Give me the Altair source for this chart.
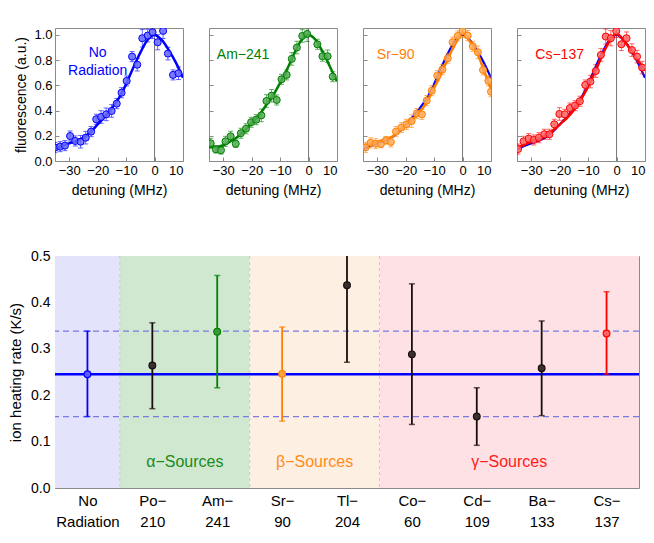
import altair as alt
import pandas as pd

FONT = "Liberation Sans"

# ---------------- top panels: fluorescence spectra ----------------
nr_x = [-35.0, -33.2, -31.5, -29.7, -27.9, -26.0, -24.2, -22.3, -20.5, -18.8, -17.0, -15.1, -13.3,
        -11.6, -9.8, -7.9, -6.1, -4.3, -2.4, -0.7, 1.1, 3.0, 4.7, 6.5, 8.4]
nr_y = [0.106, 0.114, 0.122, 0.198, 0.159, 0.153, 0.185, 0.233, 0.331, 0.349, 0.370, 0.397, 0.455,
        0.542, 0.635, 0.828, 0.764, 0.974, 0.995, 1.021, 0.942, 1.032, 0.852, 0.683, 0.696]
nr_err = [0.04, 0.04, 0.04, 0.04, 0.04, 0.05, 0.05, 0.04, 0.04, 0.05, 0.05, 0.05, 0.04,
          0.04, 0.04, 0.04, 0.05, 0.07, 0.05, 0.05, 0.06, 0.06, 0.05, 0.04, 0.05]

am_x = [-34.4, -32.6, -30.8, -29.2, -27.4, -25.6, -23.8, -22.0, -20.2, -18.4, -16.6, -14.8, -13.0,
        -11.2, -9.5, -7.7, -5.9, -4.1, -2.2, -0.5, 3.1, 4.9, 6.7, 8.5]
am_y = [0.140, 0.093, 0.085, 0.156, 0.196, 0.137, 0.220, 0.256, 0.307, 0.328, 0.362, 0.476, 0.518,
        0.484, 0.648, 0.683, 0.810, 0.900, 0.992, 1.008, 0.926, 0.831, 0.831, 0.669]
am_err = [0.04, 0.03, 0.03, 0.04, 0.04, 0.03, 0.04, 0.04, 0.04, 0.04, 0.05, 0.05, 0.05,
          0.04, 0.04, 0.04, 0.05, 0.05, 0.05, 0.06, 0.04, 0.04, 0.05, 0.04]

sr_x = [-34.1, -32.3, -30.5, -28.7, -26.9, -25.2, -23.4, -21.5, -19.7, -17.9, -16.1, -14.3, -12.6,
        -10.8, -8.9, -7.1, -5.2, -3.5, -1.7, 0.0, 1.8, 3.6, 5.4, 7.2, 9.1, 10.0]
sr_y = [0.108, 0.145, 0.137, 0.135, 0.164, 0.151, 0.233, 0.265, 0.291, 0.317, 0.376, 0.370, 0.479,
        0.558, 0.677, 0.725, 0.815, 0.942, 0.992, 1.030, 0.995, 0.910, 0.862, 0.722, 0.635, 0.550]
sr_err = [0.04, 0.04, 0.04, 0.03, 0.03, 0.04, 0.04, 0.04, 0.04, 0.05, 0.04, 0.04, 0.04,
          0.04, 0.04, 0.04, 0.04, 0.04, 0.04, 0.05, 0.04, 0.04, 0.05, 0.04, 0.04, 0.04]

cs_x = [-34.6, -32.7, -30.9, -29.1, -27.3, -25.4, -23.6, -21.9, -20.1, -18.2, -16.4, -14.6, -12.9,
        -11.0, -9.2, -7.3, -5.5, -3.8, -2.0, -0.1, 1.7, 3.5, 5.4, 7.2, 9.0]
cs_y = [0.095, 0.156, 0.177, 0.167, 0.185, 0.212, 0.212, 0.291, 0.373, 0.370, 0.420, 0.439, 0.474,
        0.603, 0.630, 0.714, 0.841, 0.987, 0.974, 1.030, 0.926, 0.974, 0.880, 0.828, 0.741]
cs_err = [0.04, 0.04, 0.04, 0.04, 0.04, 0.04, 0.04, 0.04, 0.05, 0.04, 0.04, 0.04, 0.04,
          0.04, 0.05, 0.05, 0.05, 0.06, 0.06, 0.05, 0.05, 0.05, 0.05, 0.05, 0.05]

fit_x = [-35, -32.5, -30, -27.5, -25, -22.5, -20, -17.5, -15, -12.5, -10, -7.5, -5, -2.5, 0, 2.5, 5, 7.5, 10]
nr_fit = [0.090, 0.120, 0.140, 0.160, 0.185, 0.230, 0.290, 0.350, 0.420, 0.500, 0.610, 0.740, 0.860, 0.960, 1.000, 0.960, 0.880, 0.780, 0.660]
am_fit = [0.115, 0.110, 0.125, 0.155, 0.190, 0.240, 0.300, 0.360, 0.440, 0.520, 0.620, 0.730, 0.855, 0.960, 1.000, 0.960, 0.865, 0.750, 0.630]
sr_fit = [0.120, 0.135, 0.150, 0.170, 0.190, 0.235, 0.285, 0.330, 0.390, 0.470, 0.580, 0.690, 0.820, 0.930, 1.020, 0.950, 0.865, 0.720, 0.570]
cs_fit = [0.105, 0.130, 0.155, 0.180, 0.205, 0.240, 0.290, 0.340, 0.405, 0.490, 0.590, 0.710, 0.840, 0.950, 1.010, 0.960, 0.880, 0.800, 0.720]

x_ticks = [-30, -20, -10, 0, 10]
y_ticks = [0.0, 0.2, 0.4, 0.6, 0.8, 1.0]
y_top = 1.055

# ---------------- bottom panel: heating rates ----------------
sources = ["No|Radiation", "Po−|210", "Am−|241", "Sr−|90", "Tl−|204", "Co−|60", "Cd−|109", "Ba−|133", "Cs−|137"]
rate = [0.245, 0.264, 0.337, 0.246, 0.437, 0.288, 0.154, 0.258, 0.333]
rate_lo = [0.154, 0.171, 0.216, 0.144, 0.271, 0.137, 0.092, 0.156, 0.245]
rate_hi = [0.338, 0.356, 0.458, 0.347, 0.600, 0.440, 0.216, 0.360, 0.423]
rate_color = ["#0000ff", "#1a0d0d", "#008000", "#ff8000", "#1a0d0d", "#1a0d0d", "#1a0d0d", "#1a0d0d", "#ff0000"]
rate_fill = ["#5a5aff", "#3a3030", "#3f9a3f", "#ffa040", "#3a3030", "#3a3030", "#3a3030", "#3a3030", "#ff6060"]

baseline = 0.245
baseline_band = [0.154, 0.338]
rate_top = 0.5

region_start = [-0.5, 0.5, 2.5, 4.5]
region_end = [0.5, 2.5, 4.5, 8.5]
region_color = ["#e3e3fb", "#d0e8d0", "#fdefe2", "#fde1e4"]
region_label = ["", "α−Sources", "β−Sources", "γ−Sources"]
region_label_color = ["#0000ff", "#1a8a1a", "#ff8c1a", "#ff1a1a"]

FRAME = "#8a8a8a"


def panel(lines, xs_, ys_, errs, fit, color, fill, lx, ly, first, under_fit=None):
    pts = pd.DataFrame({"x": xs_, "y": ys_,
                        "lo": [a - b for a, b in zip(ys_, errs)],
                        "hi": [a + b for a, b in zip(ys_, errs)]})
    fdf = pd.DataFrame({"x": fit_x, "f": fit})
    one = pd.DataFrame({"k": [0]})
    xsc = alt.Scale(domain=[-35, 10], nice=False, zero=False)
    ysc = alt.Scale(domain=[0, y_top], nice=False, clamp=True)
    xax = alt.Axis(values=x_ticks, title="detuning (MHz)", tickSize=4, offset=-4, domain=False,
                   tickColor=FRAME, labelPadding=3, labelFontSize=13, titleFontSize=14,
                   titlePadding=6, labelColor="#000", titleColor="#000", titleFontWeight="normal")
    yargs = dict(values=y_ticks, format=".1f", tickSize=4, offset=-4, domain=False, tickColor=FRAME,
                 labelFontSize=13, labelColor="#000", labelPadding=3)
    if first:
        yargs.update(title="fluorescence (a.u.)", titleFontSize=14, titleColor="#000",
                     titleFontWeight="normal", titlePadding=5)
    else:
        yargs.update(labels=False, title="")
    yax = alt.Axis(**yargs)
    X = lambda f: alt.X(f, type="quantitative", scale=xsc, axis=xax)
    Y = lambda f: alt.Y(f, type="quantitative", scale=ysc, axis=yax)

    zero = alt.Chart(one).mark_rule(color="#777", strokeWidth=1).encode(
        x=alt.X(datum=0, type="quantitative", scale=xsc, axis=xax))
    layers = [zero]
    if under_fit is not None:
        udf = pd.DataFrame({"x": fit_x, "f": under_fit})
        layers.append(alt.Chart(udf).mark_line(color="#0000ff", strokeWidth=2.2, interpolate="monotone",
                                               clip=True).encode(x=X("x"), y=Y("f")))
    layers += [
        alt.Chart(fdf).mark_line(color=color, strokeWidth=2.5, interpolate="monotone", clip=True).encode(
            x=X("x"), y=Y("f")),
        alt.Chart(pts).mark_rule(color=color, strokeWidth=1, opacity=0.6, clip=True).encode(
            x=X("x"), y=Y("lo"), y2="hi"),
        alt.Chart(pts).mark_tick(color=color, orient="horizontal", size=5, thickness=1, opacity=0.6,
                                 clip=True).encode(x=X("x"), y=Y("lo")),
        alt.Chart(pts).transform_filter(alt.datum.hi <= y_top).mark_tick(
            color=color, orient="horizontal", size=5, thickness=1, opacity=0.6,
            clip=True).encode(x=X("x"), y=Y("hi")),
        alt.Chart(pts).mark_point(shape="circle", filled=True, fill=fill, fillOpacity=0.85, stroke=color,
                                  strokeWidth=1, size=50, opacity=1, clip=True).encode(x=X("x"), y=Y("y")),
        alt.Chart(one).mark_text(text=lines, color=color, font=FONT, fontSize=14, lineHeight=18,
                                 align="center", baseline="middle").encode(
            x=alt.X(datum=lx, type="quantitative", scale=xsc, axis=xax),
            y=alt.Y(datum=ly, type="quantitative", scale=ysc, axis=yax)),
    ]
    return alt.layer(*layers).properties(width=128, height=133)


p1 = panel(["No", "Radiation"], nr_x, nr_y, nr_err, nr_fit, "#0000ff", "#6b6bff", -20, 0.855, True)
p2 = panel("Am−241", am_x, am_y, am_err, am_fit, "#008000", "#55aa55", -23, 0.84, False)
p3 = panel("Sr−90", sr_x, sr_y, sr_err, sr_fit, "#ff8000", "#ffac5a", -23.5, 0.84, False, under_fit=nr_fit)
p4 = panel("Cs−137", cs_x, cs_y, cs_err, cs_fit, "#ff0000", "#ff6a6a", -20, 0.84, False, under_fit=nr_fit)

top = alt.hconcat(p1, p2, p3, p4, spacing=24)

# ---------------- bottom chart ----------------
bdf = pd.DataFrame({"i": list(range(len(sources))), "rate": rate, "lo": rate_lo, "hi": rate_hi,
                    "col": rate_color, "fill": rate_fill})
rdf = pd.DataFrame({"s": region_start, "e": region_end, "col": region_color,
                    "lab": region_label, "labcol": region_label_color,
                    "mid": [(a + b) / 2 for a, b in zip(region_start, region_end)]})
bnd = pd.DataFrame({"b": region_end[:-1]})
hl = pd.DataFrame({"v": baseline_band})
one_b = pd.DataFrame({"k": [0]})

label_arr = "[" + ",".join("'" + s + "'" for s in sources) + "]"
bxsc = alt.Scale(domain=[-0.5, len(sources) - 0.5], nice=False, zero=False)
bysc = alt.Scale(domain=[0, rate_top], nice=False, clamp=True)
bxax = alt.Axis(values=list(range(len(sources))), labelExpr="split(" + label_arr + "[datum.value], '|')",
                tickSize=4, offset=-4, domain=False, tickColor=FRAME, title="", labelFontSize=15,
                labelColor="#000", labelPadding=5, labelLineHeight=21, labelBaseline="top")
byax = alt.Axis(values=[0.0, 0.1, 0.2, 0.3, 0.4, 0.5], format=".1f", tickSize=4, offset=-4, domain=False,
                tickColor=FRAME, title="ion heating rate (K/s)", labelFontSize=14, titleFontSize=15,
                labelColor="#000", titleColor="#000", titleFontWeight="normal", labelPadding=5,
                titlePadding=7)
BX = lambda f: alt.X(f, type="quantitative", scale=bxsc, axis=bxax)
BY = lambda f: alt.Y(f, type="quantitative", scale=bysc, axis=byax)

regions = alt.Chart(rdf).mark_rect().encode(
    x=BX("s"), x2="e",
    y=alt.Y(datum=0, type="quantitative", scale=bysc, axis=byax),
    y2=alt.datum(rate_top),
    color=alt.Color("col:N", scale=None))
bounds = alt.Chart(bnd).mark_rule(color="#c4ccc4", strokeDash=[3, 3], strokeWidth=1).encode(x=BX("b"))
base_line = alt.Chart(one_b).mark_rule(color="#0000ff", strokeWidth=2.5).encode(
    y=alt.Y(datum=baseline, type="quantitative", scale=bysc, axis=byax))
band_lines = alt.Chart(hl).mark_rule(color="#7a7ae0", strokeDash=[6, 4], strokeWidth=1.2).encode(y=BY("v"))
ebars = alt.Chart(bdf).mark_rule(strokeWidth=1.8, clip=True).encode(
    x=BX("i"), y=BY("lo"), y2="hi", color=alt.Color("col:N", scale=None))
cap_lo = alt.Chart(bdf).mark_tick(orient="horizontal", size=6, thickness=1.5, clip=True).encode(
    x=BX("i"), y=BY("lo"), color=alt.Color("col:N", scale=None))
cap_hi = alt.Chart(bdf).transform_filter(alt.datum.hi <= rate_top).mark_tick(
    orient="horizontal", size=6, thickness=1.5, clip=True).encode(
    x=BX("i"), y=BY("hi"), color=alt.Color("col:N", scale=None))
pts = alt.Chart(bdf).mark_point(shape="circle", filled=True, size=45, strokeWidth=1.2, opacity=1).encode(
    x=BX("i"), y=BY("rate"), fill=alt.Fill("fill:N", scale=None), stroke=alt.Stroke("col:N", scale=None))
rtext = alt.Chart(rdf).mark_text(font=FONT, fontSize=16, baseline="middle", align="center").encode(
    x=BX("mid"), y=alt.Y(datum=0.057, type="quantitative", scale=bysc, axis=byax),
    text="lab:N", color=alt.Color("labcol:N", scale=None))

bottom = alt.layer(regions, bounds, band_lines, base_line, ebars, cap_lo, cap_hi, pts, rtext).properties(
    width=584, height=232)

chart = alt.vconcat(top, bottom, spacing=50).properties(
    padding={"left": 0, "top": 19, "right": 0, "bottom": 0}
).configure(font=FONT).configure_view(stroke=FRAME, strokeWidth=1).configure_axis(
    labelFont=FONT, titleFont=FONT, grid=False)

chart.save("out.html", embed_options={"renderer": "svg", "actions": False})
